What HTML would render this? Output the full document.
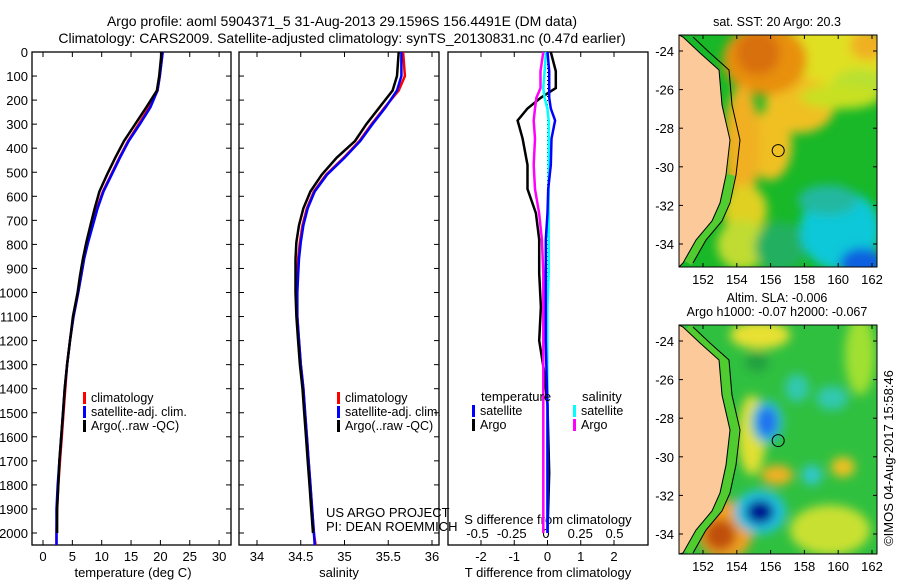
<!DOCTYPE html>
<html><head><meta charset="utf-8"><style>
body{margin:0;background:#fff;}
svg text{font-family:"Liberation Sans",sans-serif;fill:#000;}
</style></head><body>
<svg id="fig" width="900" height="580" viewBox="0 0 900 580" xmlns="http://www.w3.org/2000/svg">
<defs>
<filter id="bl" x="-30%" y="-30%" width="160%" height="160%"><feGaussianBlur stdDeviation="5"/></filter>
<clipPath id="cm1"><rect x="679" y="35" width="198" height="232"/></clipPath>
<clipPath id="cm2"><rect x="679" y="325" width="198" height="229"/></clipPath>
</defs>
<text x="342" y="26" font-size="14" text-anchor="middle">Argo profile: aoml 5904371_5 31-Aug-2013 29.1596S 156.4491E (DM data)</text>
<text x="342" y="43" font-size="14" text-anchor="middle">Climatology: CARS2009. Satellite-adjusted climatology: synTS_20130831.nc (0.47d earlier)</text>
<g id="p1"></g>
<g id="p2"></g>
<g id="p3"></g>
<g id="maps"></g>
<text transform="translate(893,458) rotate(-90)" font-size="13" text-anchor="middle">©IMOS 04-Aug-2017 15:58:46</text>
</svg>
<script>
const depths=[0,100,160,230,300,370,440,510,580,650,720,790,860,930,1000,1100,1200,1300,1400,1500,1600,1700,1800,1900,2000,2050];
const tempArgo=[20.2,19.8,19.4,17.6,15.7,13.8,12.3,10.9,9.6,8.8,8.1,7.4,6.8,6.3,5.9,5.1,4.6,4.1,3.7,3.4,3.1,2.8,2.6,2.4,2.4];
const tempSat=[20.4,19.9,19.5,18.3,16.5,14.6,13.1,11.7,10.3,9.3,8.5,7.7,7.0,6.5,6.0,5.2,4.6,4.1,3.7,3.4,3.1,2.8,2.5,2.3,2.3,2.3];
const tempClim=[20.4,19.9,19.5,18.1,16.3,14.5,13.0,11.6,10.2,9.2,8.4,7.6,7.0,6.5,6.0,5.2,4.6,4.1,3.8,3.5,3.2,2.9,2.6,2.4,2.3,2.3];
const salArgo=[35.62,35.6,35.55,35.4,35.25,35.12,34.91,34.74,34.61,34.53,34.48,34.45,34.44,34.44,34.44,34.45,34.47,34.49,34.52,34.54,34.56,34.58,34.60,34.62,34.64];
const salSat=[35.65,35.65,35.6,35.47,35.32,35.18,35.0,34.8,34.66,34.58,34.53,34.5,34.48,34.47,34.46,34.46,34.48,34.5,34.53,34.55,34.57,34.59,34.61,34.63,34.65,34.66];
const salClim=[35.67,35.69,35.62,35.46,35.31,35.17,34.99,34.79,34.65,34.57,34.52,34.49,34.47,34.46,34.46,34.46,34.48,34.5,34.53,34.55,34.57,34.59,34.61,34.63,34.65,34.67];
const diffDepths=[0,80,150,190,235,285,360,470,570,670,780,920,1060,1200,1330,1470,1750,2000];
const tDiffArgo=[0.1,0.25,0.25,-0.2,-0.6,-0.9,-0.75,-0.6,-0.6,-0.35,-0.25,-0.25,-0.2,-0.25,-0.1,0,0.05,0];
const tDiffSat=[0,0.05,0.05,0.05,0.1,0.23,0.12,0.1,0.02,0,-0.05,-0.05,-0.05,-0.05,-0.03,0,0,0];
const sDiffArgo=[-0.02,-0.04,-0.04,-0.07,-0.08,-0.09,-0.08,-0.09,-0.08,-0.05,-0.03,-0.02,-0.02,-0.02,-0.02,-0.02,-0.02,-0.02];
const sDiffSat=[0,-0.01,-0.02,-0.01,0.01,0.02,0.02,0.02,0.02,0.02,0.02,0.02,0.01,0.01,0.01,0.01,0.01,0.01];
const depthTicks=[0,100,200,300,400,500,600,700,800,900,1000,1100,1200,1300,1400,1500,1600,1700,1800,1900,2000];
const tempTicks=[0,5,10,15,20,25,30];
const salTicks=[34,34.5,35,35.5,36];
const tDiffTicks=[-2,-1,0,1,2];
const sDiffTicks=[-0.5,-0.25,0,0.25,0.5];
const latTicks=[-24,-26,-28,-30,-32,-34];
const lonTicks=[152,154,156,158,160,162];
const argoLat=-29.16;
const argoLon=156.45;

const NS="http://www.w3.org/2000/svg";
function mk(tag,at,parent){const e=document.createElementNS(NS,tag);for(const k in at)e.setAttribute(k,at[k]);parent.appendChild(e);return e;}
const yD=d=>52+d*0.2405;
const xT=t=>43+t*5.87;
const xS=s=>257+(s-34)*87.5;
const xTd=t=>547.5+t*33.25;
const xSd=s=>546+s*137;
function pts(xs,fx,ds){let p=[];for(let i=0;i<xs.length;i++){p.push(fx(xs[i]).toFixed(1)+','+yD(ds[i]).toFixed(1));}return p.join(' ');}

function frame(g,x0,x1,leftLabels){
  const r=mk('rect',{x:x0,y:52,width:x1-x0,height:493,fill:'none',stroke:'#000','stroke-width':1.3},g);
  
  depthTicks.forEach(d=>{
    mk('line',{x1:x0,x2:x0+5,y1:yD(d),y2:yD(d),stroke:'#000'},g);
    mk('line',{x1:x1,x2:x1-5,y1:yD(d),y2:yD(d),stroke:'#000'},g);
    if(leftLabels){const t=mk('text',{x:x0-4,y:yD(d)+5,'font-size':13,'text-anchor':'end'},g);t.textContent=d;
      }
  });
}
function xticks(g,ticks,fx,y,lab){ticks.forEach(v=>{
  mk('line',{x1:fx(v),x2:fx(v),y1:545,y2:540,stroke:'#000'},g);mk('line',{x1:fx(v),x2:fx(v),y1:52,y2:57,stroke:'#000'},g);
  const t=mk('text',{x:fx(v),y:y,'font-size':13,'text-anchor':'middle'},g);t.textContent=lab?lab(v):v;
  });}
function line(g,xs,fx,ds,col,name,w){const l=mk('polyline',{points:pts(xs,fx,ds),fill:'none',stroke:col,'stroke-width':w||2.5},g);
  }
function legend(g,x,y,items){items.forEach((it,i)=>{mk('rect',{x:x,y:y+i*14-10,width:3,height:12,fill:it[1]},g);
  const t=mk('text',{x:x+8,y:y+i*14,'font-size':12.5},g);t.textContent=it[0];
  });}
function label(g,x,y,s,name,anchor){const t=mk('text',{x:x,y:y,'font-size':13,'text-anchor':anchor||'middle'},g);t.textContent=s;
  }

const p1=document.getElementById('p1');
frame(p1,32,231,true);xticks(p1,tempTicks,xT,561);
line(p1,tempClim,xT,depths,'#f00','temp-climatology-line');
line(p1,tempSat,xT,depths,'#00f','temp-satellite-line');
line(p1,tempArgo,xT,depths,'#000','temp-argo-line');
legend(p1,83,402,[['climatology','#f00'],['satellite-adj. clim.','#00f'],['Argo(..raw -QC)','#000']]);
label(p1,133,577,'temperature (deg C)','x-axis-title-temperature');
const p2=document.getElementById('p2');
frame(p2,239,439,false);xticks(p2,salTicks,xS,561);
line(p2,salClim,xS,depths,'#f00','sal-climatology-line');
line(p2,salSat,xS,depths,'#00f','sal-satellite-line');
line(p2,salArgo,xS,depths,'#000','sal-argo-line');
legend(p2,337,402,[['climatology','#f00'],['satellite-adj. clim.','#00f'],['Argo(..raw -QC)','#000']]);
label(p2,339,577,'salinity','x-axis-title-salinity');
label(p2,326,517,'US ARGO PROJECT','credit-project','start');
label(p2,326,531,'PI: DEAN ROEMMICH','credit-pi','start');
const p3=document.getElementById('p3');
const r3=mk('rect',{x:448,y:52,width:200,height:493,fill:'none',stroke:'#000','stroke-width':1.3},p3);

mk('line',{x1:xTd(0),x2:xTd(0),y1:52,y2:545,stroke:'#000','stroke-dasharray':'1,3'},p3);
xticks(p3,tDiffTicks,xTd,561);
sDiffTicks.forEach(v=>{const t=mk('text',{x:xSd(v),y:538,'font-size':13,'text-anchor':'middle'},p3);t.textContent=(v==0?'0':v);
  });
label(p3,548,524,'S difference from climatology','s-diff-axis-title');
label(p3,548,577,'T difference from climatology','t-diff-axis-title');
line(p3,tDiffArgo,xTd,diffDepths,'#000','t-diff-argo-line');
line(p3,sDiffArgo,xSd,diffDepths,'#f0f','s-diff-argo-line');
line(p3,sDiffSat,xSd,diffDepths,'#0ff','s-diff-sat-line');
line(p3,tDiffSat,xTd,diffDepths,'#00f','t-diff-sat-line');
label(p3,481,401,'temperature','legend-temperature-header','start');
label(p3,582,401,'salinity','legend-salinity-header','start');
legend(p3,472,415,[['satellite','#00f'],['Argo','#000']]);
legend(p3,573,415,[['satellite','#0ff'],['Argo','#f0f']]);

const M=document.getElementById('maps');
const coastShape=[[683,2],[700,18],[719,35],[722,70],[730,105],[726,140],[720,168],[712,186],[696,205],[683,228]];
function map(y0,h,clip,base,blobs,stripFrom,title){
  const lonX=lo=>703+(lo-152)*16.9;
  const latY=la=>y0+16+(-24-la)*19.3;
  const g=mk('g',{'clip-path':'url(#'+clip+')'},M);
  
  mk('rect',{x:679,y:y0,width:198,height:h,fill:base},g);
  const b=mk('g',{filter:'url(#bl)'},g);
  blobs.forEach(e=>mk('ellipse',{cx:e[0],cy:y0+e[1],rx:e[2],ry:e[3],fill:e[4]},b));
  const c=coastShape.map(p=>[p[0],y0+p[1]]);
  mk('polyline',{points:c.slice(stripFrom).map(p=>(p[0]+5)+','+p[1]).join(' '),fill:'none',stroke:'#50cc30','stroke-width':8},g);
  const poly=[[679,y0]].concat(c).concat([[679,y0+h]]);
  mk('polygon',{points:poly.map(p=>p.join(',')).join(' '),fill:'#fbc99a',stroke:'#000','stroke-width':1},g);
  mk('polyline',{points:c.map(p=>(p[0]+10)+','+p[1]).join(' '),fill:'none',stroke:'#000','stroke-width':1},g);
  const ci=mk('circle',{cx:lonX(argoLon),cy:latY(argoLat),r:6,fill:'none',stroke:'#000'},g);
  
  const f=mk('rect',{x:679,y:y0,width:198,height:h,fill:'none',stroke:'#000'},M);
  
  latTicks.forEach(la=>{const y=latY(la);mk('line',{x1:679,x2:683,y1:y,y2:y,stroke:'#000'},M);mk('line',{x1:877,x2:873,y1:y,y2:y,stroke:'#000'},M);
    const t=mk('text',{x:674,y:y+5,'font-size':13,'text-anchor':'end'},M);t.textContent=la;
    });
  lonTicks.forEach(lo=>{const x=lonX(lo);mk('line',{x1:x,x2:x,y1:y0+h,y2:y0+h-4,stroke:'#000'},M);mk('line',{x1:x,x2:x,y1:y0,y2:y0+4,stroke:'#000'},M);
    const t=mk('text',{x:x,y:y0+h+17,'font-size':13,'text-anchor':'middle'},M);t.textContent=lo;
    });
  title.forEach((s,i)=>{const t=mk('text',{x:777,y:y0-9-(title.length-1-i)*14,'font-size':12.5,'text-anchor':'middle'},M);t.textContent=s;
    });
}
map(35,232,'cm1','#18b828',[
 [830,20,65,32,'#e0e020'],[868,10,18,15,'#f0b020'],[860,50,28,16,'#b8e030'],
 [800,70,35,28,'#f0c020'],[770,110,22,35,'#f0c020'],
 [765,25,42,35,'#e89010'],[758,18,22,22,'#d87010'],[840,62,40,12,'#c8e020'],
 [742,110,18,60,'#f0b020'],[745,175,22,25,'#e0d020'],[742,210,25,25,'#c0dc30'],
 [780,212,25,25,'#20b060'],[840,195,40,40,'#10c8d8'],[828,165,30,15,'#20b8a0'],[862,228,22,15,'#1060e0']
],5,['sat. SST: 20 Argo: 20.3']);
map(325,229,'cm2','#30c040',[
 [760,10,30,14,'#e8e030'],[757,37,12,10,'#20a040'],[797,63,12,14,'#30c8b0'],[832,73,16,12,'#30c8b0'],
 [860,30,15,40,'#a0e030'],[752,110,14,40,'#e0e030'],[767,97,16,22,'#30c0d0'],[767,97,10,15,'#2070f0'],
 [777,150,16,10,'#f0b020'],[812,150,10,10,'#30c8d0'],[843,142,12,10,'#f0c020'],[830,205,40,25,'#c8e030'],
 [725,205,28,30,'#f0a020'],[720,210,16,16,'#c05010'],[760,187,26,22,'#20c0e0'],[760,187,14,12,'#000890']
],0,['Altim. SLA: -0.006','Argo h1000: -0.07 h2000: -0.067']);
</script>
</body></html>
